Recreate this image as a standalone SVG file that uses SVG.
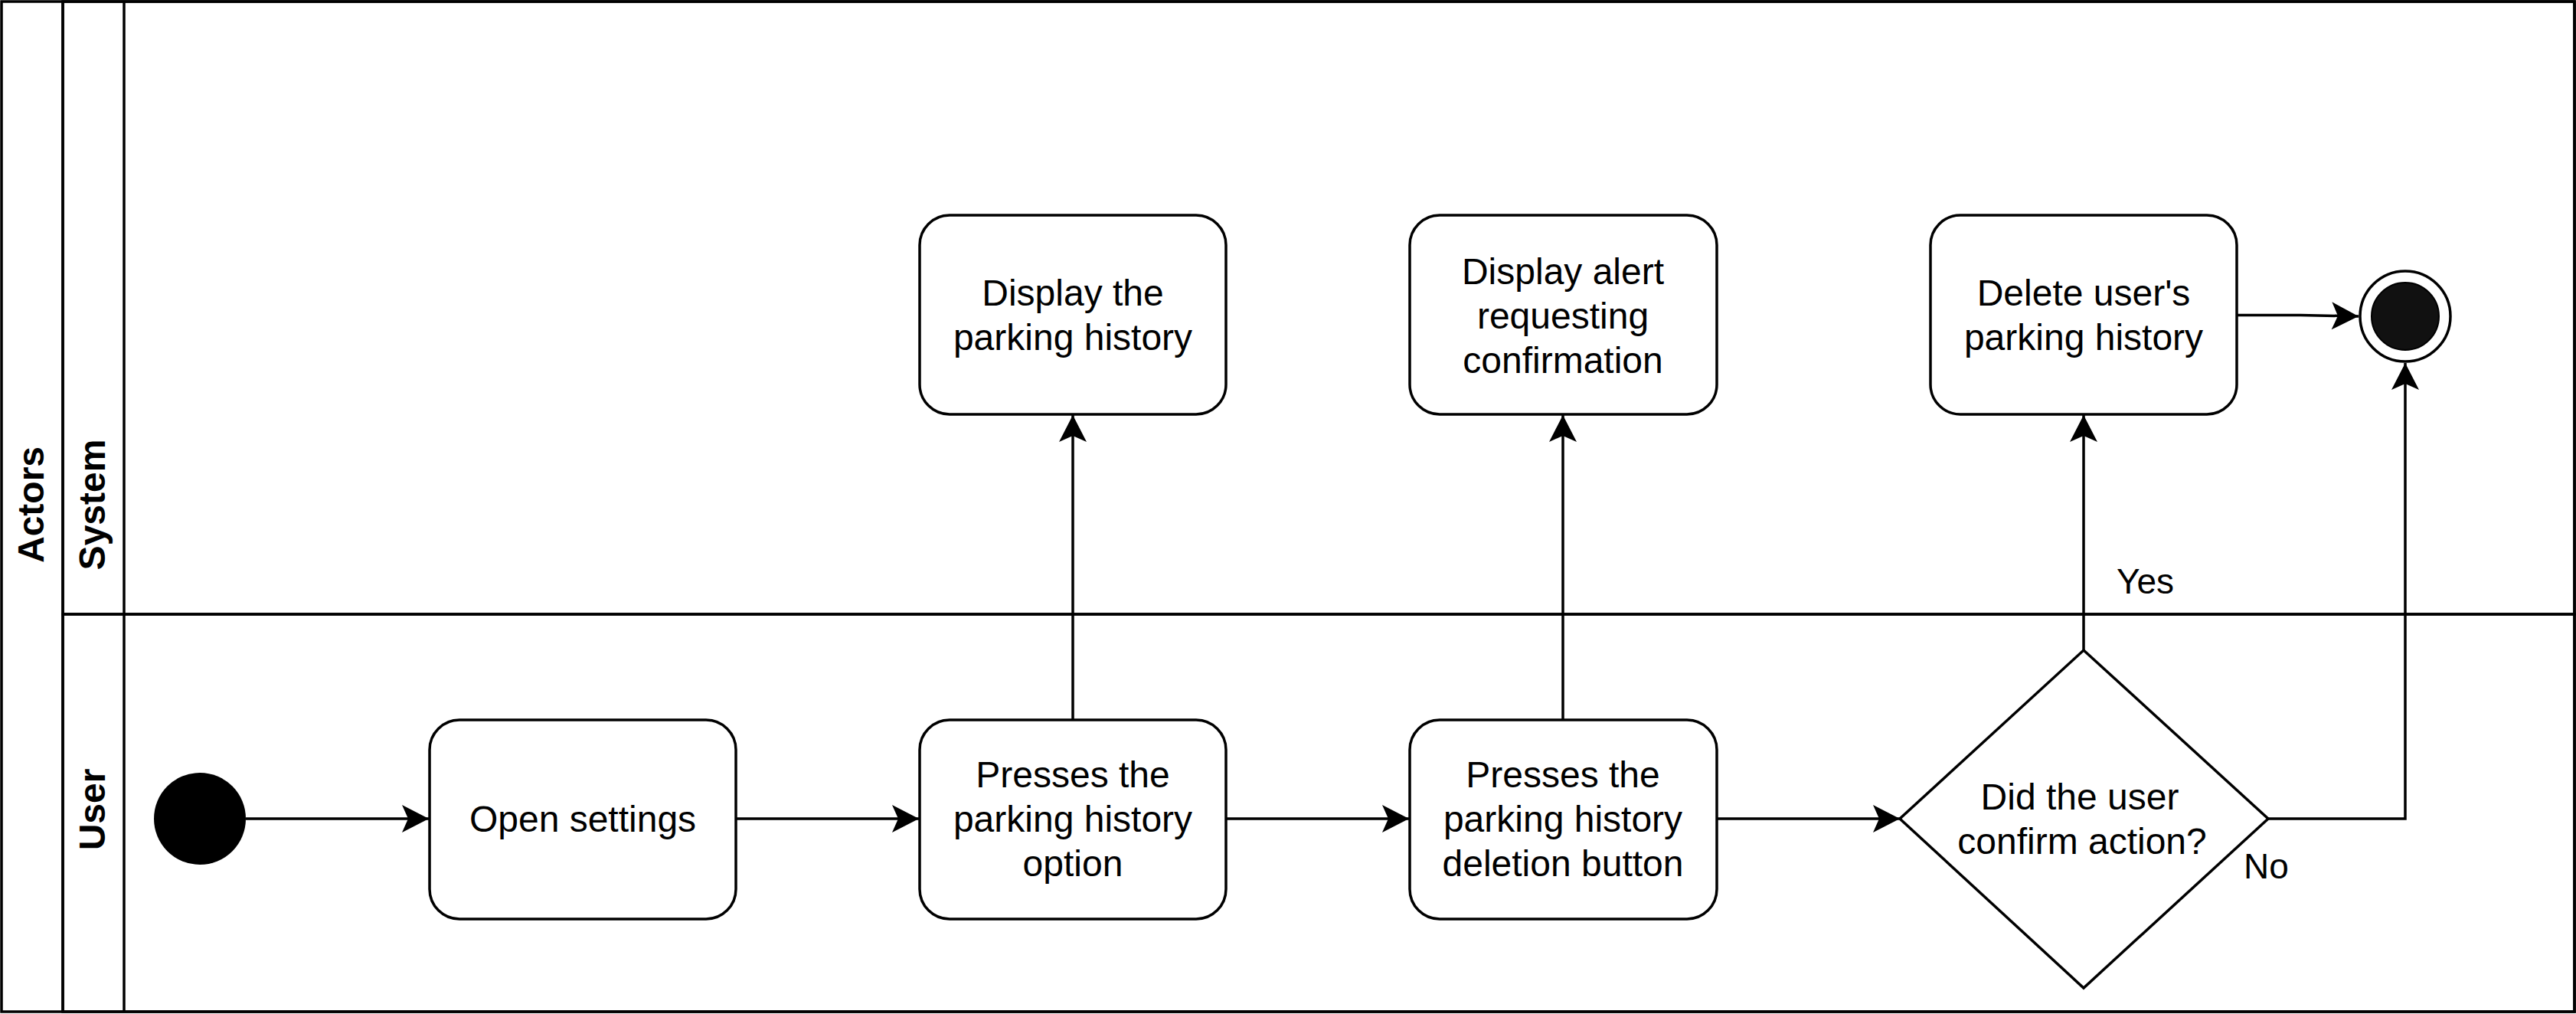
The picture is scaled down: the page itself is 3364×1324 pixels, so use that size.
<svg xmlns="http://www.w3.org/2000/svg" width="3364" height="1324" viewBox="0 0 3364 1324">
<defs>
<style>
.lane{fill:none;stroke:#000;stroke-width:3.5}
.box{fill:#fff;stroke:#000;stroke-width:3.5}
.edge{fill:none;stroke:#000;stroke-width:3.5}
.t{font-family:"Liberation Sans",Arial,Helvetica,sans-serif;font-size:48px;fill:#000;text-anchor:middle}
.lbl{font-family:"Liberation Sans",Arial,Helvetica,sans-serif;font-size:46px;fill:#000}
.hdr{font-family:"Liberation Sans",Arial,Helvetica,sans-serif;font-size:48px;font-weight:bold;fill:#000;text-anchor:middle}
</style>
<marker id="arr" markerUnits="userSpaceOnUse" markerWidth="40" markerHeight="40" viewBox="-36 -20 40 40" refX="0" refY="0" orient="auto">
<path d="M0,0 L-35,-18 L-27,0 L-35,18 Z" fill="#000"/>
</marker>
</defs>
<rect width="3364" height="1324" fill="#fff"/>
<g id="pool">
<rect class="lane" x="2" y="2" width="3360" height="1319"/>
<line class="lane" x1="82" y1="2" x2="82" y2="1321"/>
<text class="hdr" transform="translate(57,659) rotate(-90)">Actors</text>
</g>
<g id="lane-system">
<rect class="lane" x="82" y="2" width="3280" height="800"/>
<line class="lane" x1="162" y1="2" x2="162" y2="802"/>
<text class="hdr" transform="translate(137,659) rotate(-90)">System</text>
</g>
<g id="lane-user">
<rect class="lane" x="82" y="802" width="3280" height="519"/>
<line class="lane" x1="162" y1="802" x2="162" y2="1321"/>
<text class="hdr" transform="translate(137,1057) rotate(-90)">User</text>
</g>
<g id="connectors">
<line class="edge" x1="321" y1="1069" x2="560" y2="1069" marker-end="url(#arr)"/>
<line class="edge" x1="961" y1="1069" x2="1200" y2="1069" marker-end="url(#arr)"/>
<line class="edge" x1="1601" y1="1069" x2="1840" y2="1069" marker-end="url(#arr)"/>
<line class="edge" x1="2242" y1="1069" x2="2481" y2="1069" marker-end="url(#arr)"/>
<line class="edge" x1="1401" y1="940" x2="1401" y2="542" marker-end="url(#arr)"/>
<line class="edge" x1="2041" y1="940" x2="2041" y2="542" marker-end="url(#arr)"/>
<line class="edge" x1="2721" y1="849" x2="2721" y2="542" marker-end="url(#arr)"/>
<path class="edge" d="M2962,1069 H3141 V474" marker-end="url(#arr)"/>
<path class="edge" d="M2921,411.5 H3004 L3080,413" marker-end="url(#arr)"/>
<text class="lbl" x="2764" y="775">Yes</text>
<text class="lbl" x="2930" y="1147">No</text>
</g>
<g id="start">
<circle cx="261" cy="1069" r="60" fill="#000"/>
</g>
<g id="open-settings">
<rect class="box" x="561" y="940" width="400" height="260" rx="39"/>
<text class="t" x="761" y="1086">Open settings</text>
</g>
<g id="press-option">
<rect class="box" x="1201" y="940" width="400" height="260" rx="39"/>
<text class="t" x="1401" y="1028">Presses the</text>
<text class="t" x="1401" y="1086">parking history</text>
<text class="t" x="1401" y="1144">option</text>
</g>
<g id="press-delete">
<rect class="box" x="1841" y="940" width="401" height="260" rx="39"/>
<text class="t" x="2041" y="1028">Presses the</text>
<text class="t" x="2041" y="1086">parking history</text>
<text class="t" x="2041" y="1144">deletion button</text>
</g>
<g id="decision">
<polygon class="box" points="2721,849 2962,1069 2721,1290 2481,1069"/>
<text class="t" x="2716" y="1057">Did the user</text>
<text class="t" x="2719" y="1115">confirm action?</text>
</g>
<g id="display-history">
<rect class="box" x="1201" y="281" width="400" height="260" rx="39"/>
<text class="t" x="1401" y="399">Display the</text>
<text class="t" x="1401" y="457">parking history</text>
</g>
<g id="display-alert">
<rect class="box" x="1841" y="281" width="401" height="260" rx="39"/>
<text class="t" x="2041" y="371">Display alert</text>
<text class="t" x="2041" y="429">requesting</text>
<text class="t" x="2041" y="487">confirmation</text>
</g>
<g id="delete-history">
<rect class="box" x="2521" y="281" width="400" height="260" rx="39"/>
<text class="t" x="2721" y="399">Delete user's</text>
<text class="t" x="2721" y="457">parking history</text>
</g>
<g id="end">
<circle cx="3141" cy="413" r="59" fill="#fff" stroke="#000" stroke-width="3.5"/>
<circle cx="3141" cy="413" r="44" fill="#111" stroke="#000" stroke-width="2"/>
</g>
</svg>
